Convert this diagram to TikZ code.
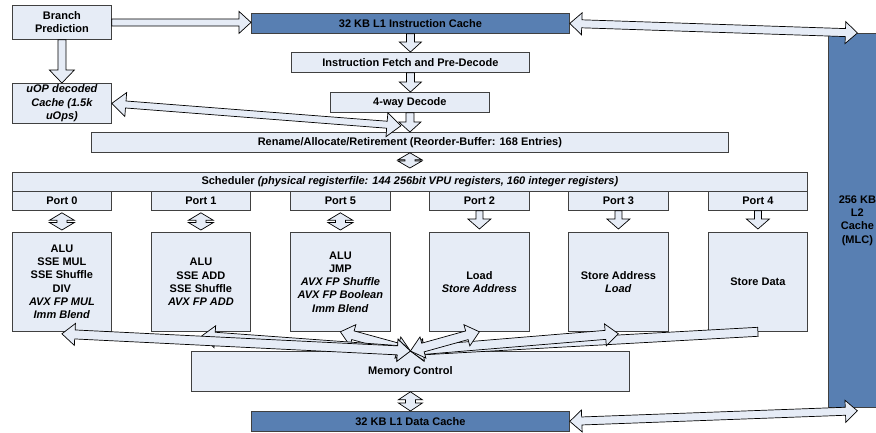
\documentclass[tikz,border=0pt]{standalone}
\usepackage{fontspec}
\setmainfont{Liberation Sans}
\usetikzlibrary{calc}
\definecolor{boxfill}{RGB}{230,236,246}
\definecolor{cacheblue}{RGB}{88,127,178}
\definecolor{edgegray}{RGB}{64,64,64}
\tikzset{
  unit/.style={draw=edgegray, line width=0.8pt, fill=boxfill, inner sep=0pt,
    font=\bfseries\fontsize{11}{13.3}\selectfont, align=center, anchor=north west},
  cache/.style={unit, fill=cacheblue},
  barr/.style={draw=black, line width=0.7pt, fill=boxfill, line join=miter},
}
% #1 heads (0,1,2), #2 from, #3 to, #4 shaft half width, #5 head half width, #6 head length
\newcommand\blockarrow[6][2]{%
  \path let \p1=($(#3)-(#2)$) in \pgfextra{%
    \pgfmathsetmacro\tmpang{atan2(\y1,\x1)}\xdef\gang{\tmpang}%
    \pgfmathsetmacro\tmplen{veclen(\x1,\y1)}\xdef\glen{\tmplen}};
  \pgfmathsetmacro\gk{\glen-#6}%
  \begin{scope}[shift={(#2)},rotate=\gang]
    \ifcase#1
      \draw[barr] (0pt,#4pt) -- (\glen pt,#4pt) -- (\glen pt,-#4pt) -- (0pt,-#4pt) -- cycle;
    \or
      \draw[barr] (0pt,#4pt) -- (\gk pt,#4pt) -- (\gk pt,#5pt) -- (\glen pt,0pt) -- (\gk pt,-#5pt) -- (\gk pt,-#4pt) -- (0pt,-#4pt) -- cycle;
    \or
      \draw[barr] (0pt,0pt) -- (#6pt,#5pt) -- (#6pt,#4pt) -- (\gk pt,#4pt) -- (\gk pt,#5pt) -- (\glen pt,0pt) -- (\gk pt,-#5pt) -- (\gk pt,-#4pt) -- (#6pt,-#4pt) -- (#6pt,-#5pt) -- cycle;
    \fi
  \end{scope}%
}
\begin{document}
\begin{tikzpicture}[x=1pt,y=-1pt]
\useasboundingbox (0,0) rectangle (876,432);
% boxes
\node[unit, minimum width=99pt, minimum height=34pt] (bp) at (12,5) {Branch\\Prediction};
\node[cache, minimum width=318pt, minimum height=20pt] (l1i) at (251,13) {32 KB L1 Instruction Cache};
\node[unit, minimum width=238pt, minimum height=20pt] (ifd) at (291,52) {Instruction Fetch and Pre-Decode};
\node[unit, minimum width=159pt, minimum height=20pt] (dec) at (330,92) {4-way Decode};
\node[unit, minimum width=99pt, minimum height=40pt] (uop) at (12,83) {\itshape uOP decoded\\\itshape Cache (1.5k\\\itshape uOps)};
\node[unit, minimum width=637pt, minimum height=20pt] (ren) at (91,132) {Rename/Allocate/Retirement (Reorder-Buffer: 168 Entries)};
\node[unit, minimum width=795pt, minimum height=19pt] (sch) at (12,172) {Scheduler \textit{(physical registerfile: 144 256bit VPU registers, 160 integer registers)}};
\node[unit, minimum width=99pt, minimum height=19pt] (p0) at (12,191) {Port 0};
\node[unit, minimum width=99pt, minimum height=19pt] (p1) at (151,191) {Port 1};
\node[unit, minimum width=100pt, minimum height=19pt] (p5) at (290,191) {Port 5};
\node[unit, minimum width=100pt, minimum height=19pt] (p2) at (429,191) {Port 2};
\node[unit, minimum width=100pt, minimum height=19pt] (p3) at (568,191) {Port 3};
\node[unit, minimum width=99pt, minimum height=19pt] (p4) at (708,191) {Port 4};
\node[unit, minimum width=99pt, minimum height=99pt] (e0) at (12,232) {ALU\\SSE MUL\\SSE Shuffle\\DIV\\\textit{AVX FP MUL}\\\textit{Imm Blend}};
\node[unit, minimum width=99pt, minimum height=99pt] (e1) at (151,232) {ALU\\SSE ADD\\SSE Shuffle\\\textit{AVX FP ADD}};
\node[unit, minimum width=100pt, minimum height=99pt] (e5) at (290,232) {ALU\\JMP\\\textit{AVX FP Shuffle}\\\textit{AVX FP Boolean}\\\textit{Imm Blend}};
\node[unit, minimum width=100pt, minimum height=99pt] (e2) at (429,232) {Load\\\textit{Store Address}};
\node[unit, minimum width=100pt, minimum height=99pt] (e3) at (568,232) {Store Address\\\textit{Load}};
\node[unit, minimum width=99pt, minimum height=99pt] (e4) at (708,232) {Store Data};
\node[unit, minimum width=438pt, minimum height=40pt] (mc) at (191,351) {Memory Control};
\node[cache, minimum width=318pt, minimum height=20pt] (l1d) at (251,411) {32 KB L1 Data Cache};
\node[cache, minimum width=58pt, minimum height=374pt] (l2) at (828,33) {256 KB\\L2\\Cache\\(MLC)};
% arrows
\blockarrow[1]{bp.east}{l1i.west |- bp.east}{3.5}{11}{12}
\blockarrow[1]{bp.south}{uop.north}{4}{12.5}{13}
\blockarrow[2]{l1i.east}{l2.north}{4}{11}{12}
\blockarrow[2]{l1d.east}{$(l2.south)+(0,3)$}{4}{11}{12}
\blockarrow[1]{l1i.south}{l1i.south |- ifd.north}{4}{11}{10}
\blockarrow[1]{ifd.south}{ifd.south |- dec.north}{4}{11}{10}
\blockarrow[2]{uop.east}{$(dec.south)+(-9,13)$}{3.5}{12}{14}
\blockarrow[1]{dec.south}{dec.south |- ren.north}{4}{11}{10}
\blockarrow[2]{ren.south}{$(ren.south |- sch.north)+(0,-4)$}{5}{12}{7}
\foreach \pa/\ea in {p0/e0,p1/e1,p5/e5}{
  \blockarrow[2]{$(\pa.south)+(0,2)$}{$(\ea.north)+(0,-2)$}{5}{12.5}{7.5}
}
\foreach \pa/\ea in {p2/e2,p3/e3,p4/e4}{
  \blockarrow[1]{\pa.south}{$(\ea.north)+(0,-3)$}{3.5}{11.5}{10}
}
\blockarrow[2]{mc.south}{l1d.north}{5}{12}{8}
\blockarrow[1]{e4.south}{mc.north}{4.5}{11}{13}
\blockarrow[2]{mc.north}{$(e3.south)+(0,2)$}{4.5}{11}{13}
\blockarrow[2]{mc.north}{e2.south}{4.5}{11}{13}
\blockarrow[2]{mc.north}{e5.south}{4.5}{11}{13}
\blockarrow[2]{mc.north}{$(e1.south)+(1,4)$}{4.5}{11}{13}
\blockarrow[2]{mc.north}{$(e0.south)+(0,2)$}{4.5}{11}{13}
\end{tikzpicture}
\end{document}
